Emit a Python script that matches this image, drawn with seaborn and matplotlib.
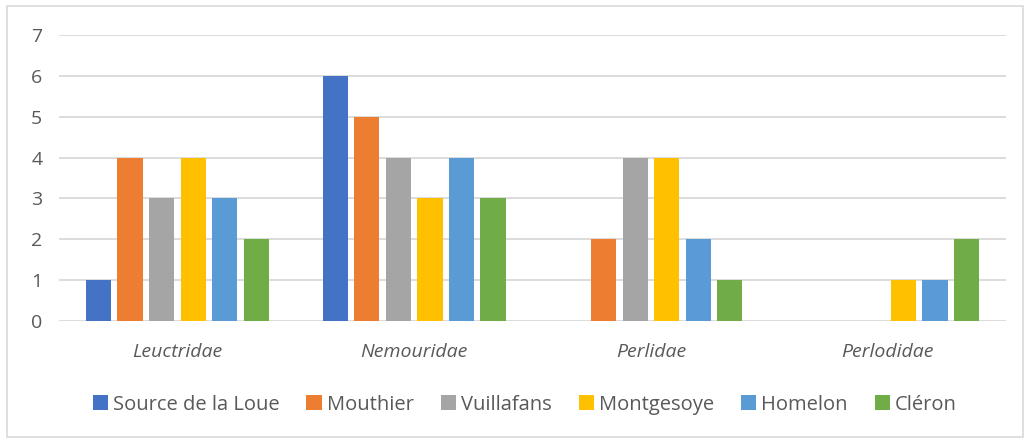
import pandas as pd
import matplotlib.pyplot as plt
import seaborn as sns
from matplotlib.patches import Rectangle

# données : nombre de taxons par famille et par station
familles = ['Leuctridae', 'Nemouridae', 'Perlidae', 'Perlodidae']
stations = ['Source de la Loue', 'Mouthier', 'Vuillafans', 'Montgesoye', 'Homelon', 'Cléron']
source_loue = [1, 6, 0, 0]
mouthier = [4, 5, 2, 0]
vuillafans = [3, 4, 4, 0]
montgesoye = [4, 3, 4, 1]
homelon = [3, 4, 2, 1]
cleron = [2, 3, 1, 2]
couleurs = ['#4472C4', '#ED7D31', '#A5A5A5', '#FFC000', '#5B9BD5', '#70AD47']

valeurs = [source_loue, mouthier, vuillafans, montgesoye, homelon, cleron]
df = pd.DataFrame([
    {'famille': f, 'station': s, 'n': v}
    for s, vals in zip(stations, valeurs)
    for f, v in zip(familles, vals)
])

sns.set_style('white')
plt.rcParams['font.family'] = ['Open Sans', 'DejaVu Sans']
gris = '#595959'

fig = plt.figure(figsize=(10.25, 4.41), dpi=100)
ax = fig.add_axes([0.0576, 0.2721, 0.9239, 0.6485])

sns.barplot(data=df, x='famille', y='n', hue='station', order=familles,
            hue_order=stations, palette=couleurs, width=0.8, gap=0.2,
            saturation=1, linewidth=0, ax=ax, legend=True)

ax.set_ylim(0, 7)
ax.set_yticks(range(0, 8))
ax.yaxis.grid(True, color='#D9D9D9', linewidth=1.3)
ax.set_axisbelow(True)
for sp in ax.spines.values():
    sp.set_visible(False)
ax.set_xlabel('')
ax.set_ylabel('')
ax.tick_params(axis='y', length=0, pad=12, labelsize=14, labelcolor=gris)
ax.tick_params(axis='x', length=0, pad=16, labelsize=14, labelcolor=gris)
for t in ax.get_xticklabels():
    t.set_fontstyle('italic')

handles, labels = ax.get_legend_handles_labels()
ax.get_legend().remove()
fig.legend(handles, labels, loc='center', bbox_to_anchor=(0.512, 0.082), ncol=6,
           frameon=False, fontsize=14.5, labelcolor=gris, handlelength=0.75,
           handleheight=0.75, handletextpad=0.25, columnspacing=1.35)

# cadre du graphique
fig.patches.append(Rectangle((0.007, 0.008), 0.991, 0.978, transform=fig.transFigure,
                             fill=False, edgecolor='#D9D9D9', linewidth=1.2))

fig.savefig('out.png', dpi=100)
